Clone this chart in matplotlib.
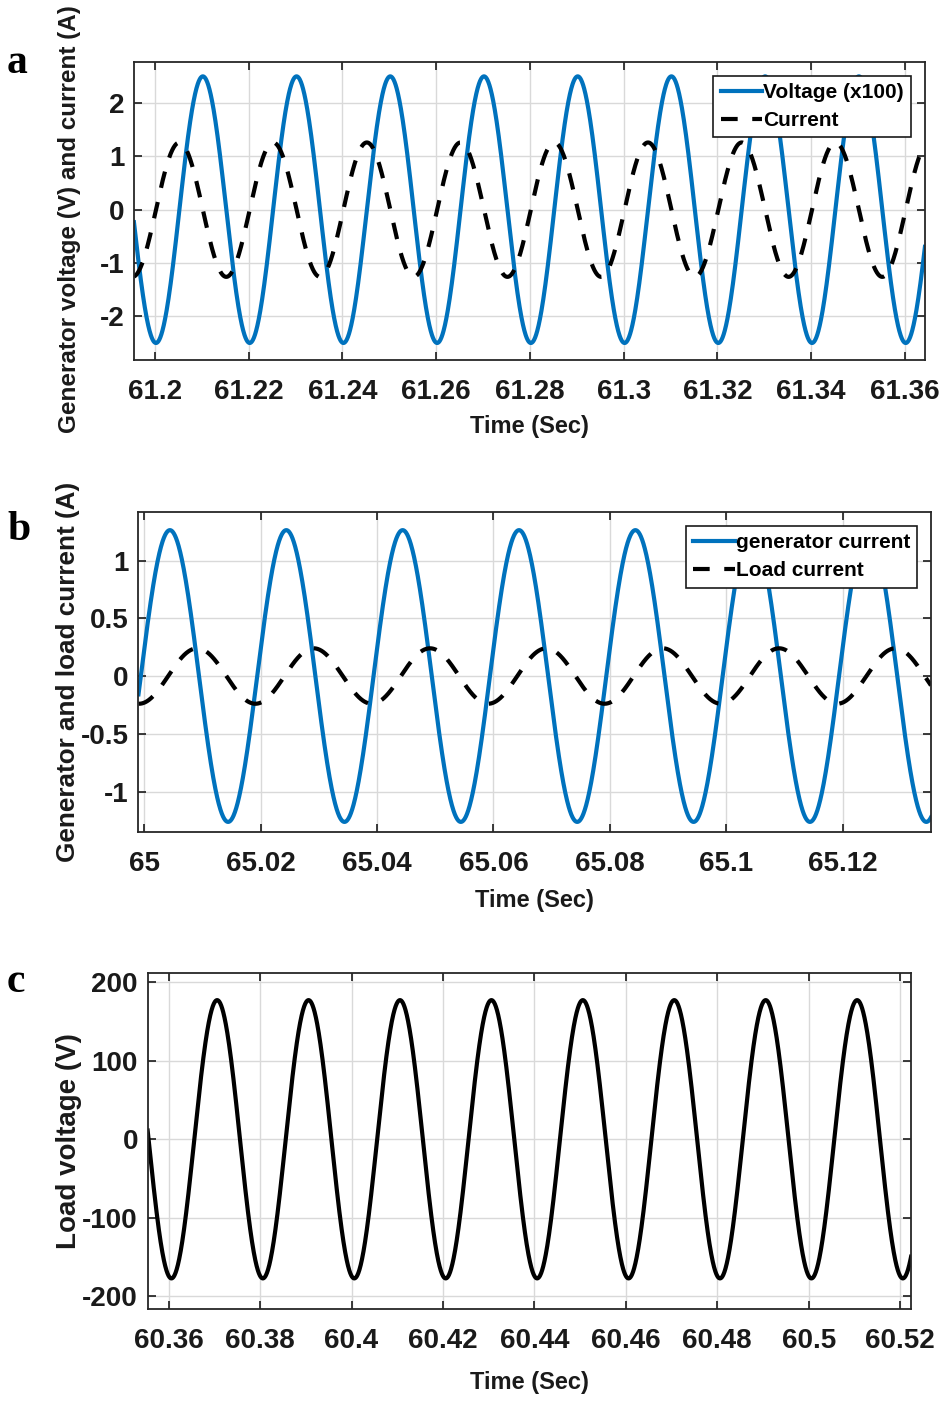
import numpy as np
import matplotlib
matplotlib.use("Agg")
import matplotlib.pyplot as plt
from matplotlib.ticker import FormatStrFormatter

plt.rcParams["font.family"] = ["Liberation Sans", "DejaVu Sans"]
plt.rcParams["font.weight"] = "bold"
plt.rcParams["axes.unicode_minus"] = False

BLUE = "#0072BD"
FREQ = 50.0  # Hz (0.02 s)

# panel a: generator voltage (scaled by 1/100) and current
a_xlim = [61.1955, 61.3643]
a_ylim = [-2.82, 2.77]
a_xticks = [61.2, 61.22, 61.24, 61.26, 61.28, 61.3, 61.32, 61.34, 61.36]
a_yticks = [-2, -1, 0, 1, 2]
a_names = ["Voltage (x100)", "Current"]
a_amp = [2.5, 1.26]
a_peak_t = [61.2102, 61.2052]

# panel b: generator and load current
b_xlim = [64.999, 65.1352]
b_ylim = [-1.35, 1.42]
b_xticks = [65.0, 65.02, 65.04, 65.06, 65.08, 65.1, 65.12]
b_yticks = [-1, -0.5, 0, 0.5, 1]
b_names = ["generator current", "Load current"]
b_amp = [1.263, 0.24]
b_peak_t = [65.0044, 65.0091]

# panel c: load voltage
c_xlim = [60.3554, 60.5224]
c_ylim = [-216, 211]
c_xticks = [60.36, 60.38, 60.4, 60.42, 60.44, 60.46, 60.48, 60.5, 60.52]
c_yticks = [-200, -100, 0, 100, 200]
c_amp = 177.0
c_peak_t = 60.3706

LW = 3.0
DASH = (4, 3.5)


def wave(xlim, amp, t_peak):
    t = np.linspace(xlim[0], xlim[1], 3000)
    return t, amp * np.cos(2 * np.pi * FREQ * (t - t_peak))


def style_axes(ax, xlim, ylim, xticks, yticks, ylabel, ylab_size=17,
               ylab_y=0.5, ylab_x=-0.07, xlab_y=-0.185):
    ax.set_xlim(xlim)
    ax.set_ylim(ylim)
    ax.set_xticks(xticks)
    ax.set_yticks(yticks)
    ax.xaxis.set_major_formatter(FormatStrFormatter("%g"))
    ax.yaxis.set_major_formatter(FormatStrFormatter("%g"))
    ax.grid(True, color="#d9d9d9", linewidth=1.0)
    ax.set_axisbelow(True)
    ax.tick_params(direction="in", length=6, width=1.2, top=True, right=True,
                   labelsize=20, colors="#1a1a1a")
    ax.tick_params(axis="x", pad=14)
    ax.tick_params(axis="y", pad=7)
    for s in ax.spines.values():
        s.set_linewidth(1.3)
        s.set_color("#262626")
    ax.set_xlabel("Time (Sec)", fontsize=17, fontweight="bold", color="#1a1a1a")
    ax.xaxis.set_label_coords(0.5, xlab_y)
    ax.xaxis.label.set_va("top")
    ax.set_ylabel(ylabel, fontsize=ylab_size, fontweight="bold", color="#1a1a1a")
    ax.yaxis.set_label_coords(ylab_x, ylab_y)


def add_legend(ax):
    leg = ax.legend(loc="upper right", fontsize=15, frameon=True, fancybox=False,
                    framealpha=1, edgecolor="#1a1a1a", handlelength=2.0,
                    handletextpad=0.05, borderpad=0.35, labelspacing=0.45,
                    borderaxespad=0.65)
    leg.get_frame().set_linewidth(1.2)
    for txt in leg.get_texts():
        txt.set_fontweight("bold")


fig = plt.figure(figsize=(9.44, 14.02), dpi=100)

# a
ax_a = fig.add_axes([0.1419, 0.7432, 0.8379, 0.2126])
t, y = wave(a_xlim, a_amp[0], a_peak_t[0])
ax_a.plot(t, y, color=BLUE, lw=LW, label=a_names[0])
t, y = wave(a_xlim, a_amp[1], a_peak_t[1])
ax_a.plot(t, y, color="black", lw=LW, dashes=DASH, label=a_names[1])
style_axes(ax_a, a_xlim, a_ylim, a_xticks, a_yticks,
           "Generator voltage (V) and current (A)", ylab_size=17.5,
           ylab_y=0.473, ylab_x=-0.067, xlab_y=-0.185)
add_legend(ax_a)

# b
ax_b = fig.add_axes([0.1467, 0.4066, 0.8395, 0.2282])
t, y = wave(b_xlim, b_amp[0], b_peak_t[0])
ax_b.plot(t, y, color=BLUE, lw=LW, label=b_names[0])
t, y = wave(b_xlim, b_amp[1], b_peak_t[1])
ax_b.plot(t, y, color="black", lw=LW, dashes=DASH, label=b_names[1])
style_axes(ax_b, b_xlim, b_ylim, b_xticks, b_yticks,
           "Generator and load current (A)", ylab_size=18.8,
           ylab_x=-0.074, xlab_y=-0.178)
add_legend(ax_b)

# c
ax_c = fig.add_axes([0.1564, 0.0663, 0.8087, 0.2394])
t, y = wave(c_xlim, c_amp, c_peak_t)
ax_c.plot(t, y, color="black", lw=LW)
style_axes(ax_c, c_xlim, c_ylim, c_xticks, c_yticks, "Load voltage (V)",
           ylab_size=20, ylab_x=-0.086, xlab_y=-0.185)

# panel letters
for lab, ypix in [("a", 73), ("b", 540), ("c", 992)]:
    fig.text(7 / 944, 1 - ypix / 1402, lab, fontsize=30, fontweight="bold",
             family=["Liberation Serif", "DejaVu Serif"], va="baseline", ha="left")

fig.savefig("out.png", dpi=100)
